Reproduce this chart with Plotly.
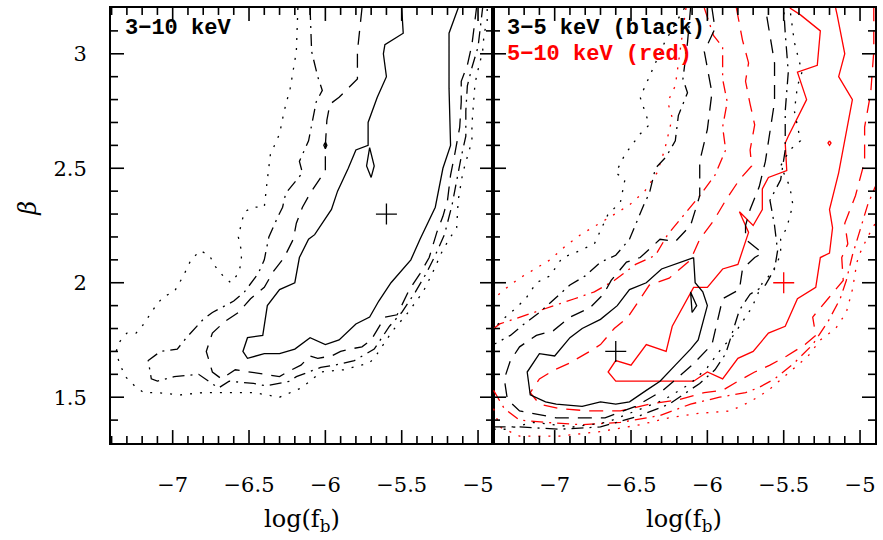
import plotly.graph_objects as go

# ---------------- axes / ticks ----------------
X_RANGE = [-7.404, -4.902]
Y_RANGE = [1.30, 3.20]
X_TICKS = [-7, -6.5, -6, -5.5, -5]
X_TICK_LABELS = ["\u22127", "\u22126.5", "\u22126", "\u22125.5", "\u22125"]
Y_TICKS = [1.5, 2, 2.5, 3]
Y_TICK_LABELS = ["1.5", "2", "2.5", "3"]
MINOR_STEP = 0.1

# ---------------- left panel : 3-10 keV ----------------
L_SOLID = [[(-5.50, 3.20), (-5.49, 3.09), (-5.61, 3.04), (-5.62, 3.00), (-5.60, 2.90), (-5.66, 2.81),
            (-5.72, 2.70), (-5.72, 2.60), (-5.80, 2.58), (-5.85, 2.50), (-5.92, 2.40), (-5.96, 2.32),
            (-6.07, 2.21), (-6.11, 2.19), (-6.17, 2.11), (-6.20, 2.00), (-6.30, 1.97), (-6.38, 1.90),
            (-6.41, 1.77), (-6.51, 1.76), (-6.54, 1.70), (-6.51, 1.67), (-6.40, 1.69), (-6.30, 1.69),
            (-6.20, 1.71), (-6.10, 1.76), (-6.00, 1.73), (-5.91, 1.75), (-5.80, 1.82), (-5.71, 1.85),
            (-5.65, 1.92), (-5.57, 2.00), (-5.44, 2.10), (-5.38, 2.19), (-5.28, 2.33), (-5.23, 2.50),
            (-5.18, 2.60), (-5.19, 2.85), (-5.19, 3.09), (-5.13, 3.20)],
           [(-5.71, 2.59), (-5.68, 2.51), (-5.70, 2.46), (-5.73, 2.51), (-5.71, 2.59)]]
L_DASH = [[(-5.76, 3.20), (-5.79, 3.01), (-5.79, 2.89), (-5.91, 2.81), (-5.97, 2.78), (-5.99, 2.71),
           (-6.00, 2.60), (-6.00, 2.49), (-6.10, 2.39), (-6.15, 2.33), (-6.19, 2.26), (-6.21, 2.19),
           (-6.27, 2.11), (-6.34, 2.05), (-6.40, 1.98), (-6.49, 1.93), (-6.57, 1.87), (-6.66, 1.83),
           (-6.74, 1.78), (-6.78, 1.70), (-6.74, 1.61), (-6.68, 1.58), (-6.59, 1.62), (-6.49, 1.61),
           (-6.38, 1.60), (-6.30, 1.59), (-6.25, 1.61), (-6.16, 1.64), (-6.10, 1.68), (-6.05, 1.67),
           (-5.96, 1.68), (-5.90, 1.70), (-5.84, 1.71), (-5.76, 1.72), (-5.70, 1.75), (-5.61, 1.85),
           (-5.53, 1.86), (-5.45, 1.97), (-5.38, 2.04), (-5.32, 2.11), (-5.27, 2.22), (-5.23, 2.29),
           (-5.20, 2.36), (-5.18, 2.47), (-5.15, 2.57), (-5.12, 2.68), (-5.11, 2.79), (-5.11, 2.88),
           (-5.07, 2.95), (-5.04, 3.04), (-5.01, 3.20)],
          [(-6.00, 2.615), (-5.99, 2.60), (-6.00, 2.585), (-6.01, 2.60), (-6.00, 2.615)]]
L_DASHDOT = [[(-6.10, 3.20), (-6.09, 3.01), (-6.05, 2.90), (-6.02, 2.84), (-6.06, 2.79), (-6.11, 2.62),
              (-6.17, 2.53), (-6.15, 2.48), (-6.26, 2.39), (-6.28, 2.33), (-6.31, 2.29), (-6.37, 2.20),
              (-6.40, 2.10), (-6.44, 2.04), (-6.53, 1.96), (-6.60, 1.92), (-6.74, 1.87), (-6.80, 1.84),
              (-6.91, 1.76), (-6.97, 1.71), (-7.08, 1.70), (-7.16, 1.66), (-7.14, 1.58), (-7.10, 1.57),
              (-6.99, 1.59), (-6.83, 1.60), (-6.70, 1.54), (-6.63, 1.57), (-6.47, 1.56), (-6.39, 1.55),
              (-6.23, 1.57), (-6.19, 1.59), (-6.03, 1.63), (-5.94, 1.64), (-5.81, 1.66), (-5.68, 1.71),
              (-5.58, 1.81), (-5.50, 1.87), (-5.41, 1.96), (-5.34, 2.04), (-5.28, 2.12), (-5.22, 2.21),
              (-5.17, 2.34), (-5.14, 2.45), (-5.11, 2.55), (-5.08, 2.64), (-5.08, 2.75), (-5.07, 2.86),
              (-5.04, 2.94), (-5.00, 3.03), (-4.98, 3.14), (-4.97, 3.20)]]
L_DOT = [[(-6.18, 3.20), (-6.19, 3.01), (-6.23, 2.85), (-6.27, 2.75), (-6.30, 2.65), (-6.36, 2.56),
          (-6.38, 2.45), (-6.39, 2.38), (-6.40, 2.33), (-6.47, 2.33), (-6.53, 2.31), (-6.55, 2.26),
          (-6.57, 2.20), (-6.55, 2.14), (-6.55, 2.09), (-6.57, 2.04), (-6.62, 2.00), (-6.67, 2.03),
          (-6.72, 2.07), (-6.76, 2.12), (-6.82, 2.14), (-6.88, 2.10), (-6.93, 2.03), (-6.99, 1.96),
          (-7.06, 1.94), (-7.11, 1.90), (-7.16, 1.85), (-7.20, 1.81), (-7.24, 1.78), (-7.30, 1.78),
          (-7.35, 1.74), (-7.37, 1.70), (-7.35, 1.65), (-7.31, 1.59), (-7.25, 1.55), (-7.19, 1.52),
          (-7.10, 1.52), (-6.95, 1.51), (-6.80, 1.52), (-6.63, 1.52), (-6.47, 1.52), (-6.30, 1.50),
          (-6.23, 1.52), (-6.16, 1.54), (-6.10, 1.57), (-6.03, 1.61), (-5.88, 1.62), (-5.71, 1.65),
          (-5.66, 1.69), (-5.56, 1.79), (-5.47, 1.86), (-5.36, 1.96), (-5.30, 2.04), (-5.24, 2.13),
          (-5.19, 2.19), (-5.14, 2.24), (-5.13, 2.36), (-5.10, 2.48), (-5.07, 2.55), (-5.04, 2.62),
          (-5.04, 2.69), (-5.02, 2.87), (-5.00, 2.93), (-4.97, 3.01), (-4.96, 3.09), (-4.94, 3.14),
          (-4.94, 3.20)]]
L_BEST = [(-5.6, 2.3)]

# ---------------- right panel : 3-5 keV (black) ----------------
B_SOLID = [[(-6.09, 2.11), (-6.18, 2.09), (-6.30, 2.06), (-6.40, 2.00), (-6.51, 1.97), (-6.59, 1.90),
            (-6.70, 1.84), (-6.82, 1.80), (-6.90, 1.76), (-7.00, 1.68), (-7.10, 1.69), (-7.18, 1.61),
            (-7.16, 1.51), (-7.06, 1.48), (-6.99, 1.47), (-6.82, 1.46), (-6.70, 1.48), (-6.60, 1.47),
            (-6.51, 1.48), (-6.40, 1.53), (-6.31, 1.57), (-6.21, 1.64), (-6.11, 1.71), (-6.06, 1.75),
            (-6.03, 1.83), (-6.00, 1.90), (-6.03, 1.96), (-6.08, 2.00), (-6.09, 2.11)],
           [(-6.11, 1.96), (-6.07, 1.90), (-6.10, 1.87), (-6.11, 1.96)]]
B_DASH = [[(-5.97, 3.20), (-5.95, 3.11), (-6.02, 3.01), (-5.97, 2.83), (-6.00, 2.67), (-6.05, 2.53),
           (-6.05, 2.38), (-6.11, 2.25), (-6.21, 2.18), (-6.31, 2.19), (-6.44, 2.11), (-6.53, 2.09),
           (-6.63, 2.01), (-6.68, 1.95), (-6.77, 1.89), (-6.90, 1.85), (-7.01, 1.79), (-7.12, 1.77),
           (-7.23, 1.72), (-7.29, 1.66), (-7.33, 1.58), (-7.31, 1.49), (-7.23, 1.44), (-6.99, 1.41),
           (-6.67, 1.41), (-6.47, 1.46), (-6.29, 1.53), (-6.10, 1.64), (-5.97, 1.73), (-5.93, 1.84),
           (-5.90, 1.93), (-5.79, 1.97), (-5.77, 2.06), (-5.69, 2.11), (-5.64, 2.13), (-5.75, 2.19),
           (-5.75, 2.25), (-5.72, 2.32), (-5.66, 2.42), (-5.62, 2.53), (-5.59, 2.66), (-5.56, 2.79),
           (-5.56, 2.96), (-5.59, 3.09), (-5.62, 3.20)]]
B_DASHDOT = [[(-6.11, 3.20), (-6.13, 3.05), (-6.16, 2.89), (-6.13, 2.83), (-6.19, 2.73), (-6.21, 2.62),
              (-6.27, 2.55), (-6.34, 2.50), (-6.38, 2.39), (-6.41, 2.35), (-6.51, 2.19), (-6.60, 2.12),
              (-6.70, 2.09), (-6.80, 2.03), (-6.90, 1.99), (-7.00, 1.93), (-7.10, 1.87), (-7.20, 1.82),
              (-7.29, 1.77), (-7.40, 1.73)],
             [(-7.40, 1.37), (-7.23, 1.37), (-6.97, 1.36), (-6.70, 1.37), (-6.44, 1.42), (-6.25, 1.47),
              (-6.05, 1.56), (-5.95, 1.62), (-5.88, 1.69), (-5.84, 1.77), (-5.79, 1.88), (-5.72, 1.95),
              (-5.62, 1.99), (-5.56, 2.06), (-5.54, 2.14), (-5.56, 2.25), (-5.59, 2.36), (-5.52, 2.45),
              (-5.49, 2.58), (-5.49, 2.75), (-5.47, 2.92), (-5.49, 3.09), (-5.50, 3.20)]]
B_DOT = [[(-6.15, 3.20), (-6.28, 3.05), (-6.38, 2.90), (-6.44, 2.81), (-6.41, 2.75), (-6.38, 2.69),
          (-6.44, 2.65), (-6.54, 2.56), (-6.60, 2.48), (-6.54, 2.45), (-6.57, 2.35), (-6.65, 2.30),
          (-6.74, 2.17), (-6.87, 2.13), (-6.95, 2.11), (-7.03, 2.03), (-7.12, 2.00), (-7.19, 1.93),
          (-7.27, 1.88), (-7.34, 1.84), (-7.40, 1.80)],
         [(-7.40, 1.36), (-7.32, 1.36), (-7.14, 1.39), (-6.88, 1.37), (-6.66, 1.39), (-6.47, 1.44),
          (-6.28, 1.49), (-6.11, 1.56), (-6.00, 1.63), (-5.90, 1.72), (-5.84, 1.76), (-5.80, 1.80),
          (-5.75, 1.85), (-5.71, 1.89), (-5.67, 1.95), (-5.64, 2.00), (-5.58, 2.04), (-5.54, 2.09),
          (-5.52, 2.13), (-5.52, 2.19), (-5.48, 2.24), (-5.44, 2.34), (-5.46, 2.42), (-5.52, 2.51),
          (-5.46, 2.58), (-5.39, 2.62), (-5.43, 2.75), (-5.41, 2.86), (-5.38, 2.92), (-5.43, 3.05),
          (-5.46, 3.20)]]
B_BEST = [(-6.6, 1.7)]

# ---------------- right panel : 5-10 keV (red) ----------------
R_SOLID = [[(-5.46, 3.20), (-5.39, 3.17), (-5.26, 3.10), (-5.28, 2.95), (-5.41, 2.92), (-5.35, 2.80),
            (-5.47, 2.64), (-5.49, 2.61), (-5.48, 2.49), (-5.60, 2.46), (-5.64, 2.41), (-5.64, 2.32),
            (-5.70, 2.25), (-5.79, 2.31), (-5.73, 2.22), (-5.80, 2.08), (-5.90, 2.06), (-6.00, 1.98),
            (-6.09, 1.98), (-6.23, 1.81), (-6.27, 1.70), (-6.40, 1.73), (-6.50, 1.64), (-6.60, 1.66),
            (-6.65, 1.61), (-6.60, 1.57), (-6.42, 1.57), (-6.21, 1.57), (-6.09, 1.57), (-6.00, 1.61),
            (-5.90, 1.58), (-5.80, 1.67), (-5.70, 1.70), (-5.60, 1.78), (-5.49, 1.81), (-5.41, 1.93),
            (-5.29, 1.98), (-5.26, 2.11), (-5.20, 2.13), (-5.18, 2.24), (-5.20, 2.32), (-5.14, 2.48),
            (-5.05, 2.80), (-5.14, 2.90), (-5.10, 3.00), (-5.15, 3.17), (-5.16, 3.20)],
           [(-5.20, 2.62), (-5.19, 2.61), (-5.20, 2.60), (-5.21, 2.61), (-5.20, 2.62)]]
R_DASH = [[(-5.81, 3.20), (-5.77, 3.06), (-5.73, 2.96), (-5.75, 2.88), (-5.72, 2.78), (-5.69, 2.69),
           (-5.72, 2.58), (-5.71, 2.51), (-5.79, 2.45), (-5.88, 2.36), (-5.96, 2.27), (-6.05, 2.19),
           (-6.11, 2.10), (-6.25, 2.02), (-6.38, 1.99), (-6.44, 1.93), (-6.52, 1.85), (-6.61, 1.80),
           (-6.70, 1.73), (-6.77, 1.70), (-6.90, 1.65), (-7.00, 1.62), (-7.10, 1.58), (-7.16, 1.52),
           (-7.10, 1.47), (-6.97, 1.45), (-6.77, 1.44), (-6.57, 1.44), (-6.38, 1.47), (-6.18, 1.49),
           (-6.02, 1.52), (-5.90, 1.53), (-5.80, 1.57), (-5.69, 1.61), (-5.59, 1.64), (-5.48, 1.68),
           (-5.36, 1.73), (-5.29, 1.77), (-5.31, 1.85), (-5.21, 1.93), (-5.11, 2.01), (-5.12, 2.11),
           (-5.08, 2.17), (-5.10, 2.26), (-5.03, 2.38), (-4.97, 2.53), (-4.97, 2.68), (-4.93, 2.83),
           (-4.91, 3.01), (-4.91, 3.20)]]
R_DASHDOT = [[(-6.02, 3.20), (-5.96, 3.08), (-5.90, 3.03), (-5.90, 2.89), (-5.87, 2.79), (-5.90, 2.68),
              (-5.88, 2.58), (-5.95, 2.47), (-6.05, 2.38), (-6.16, 2.29), (-6.26, 2.21), (-6.34, 2.12),
              (-6.47, 2.08), (-6.61, 2.01), (-6.74, 1.96), (-6.87, 1.93), (-7.00, 1.90), (-7.13, 1.87),
              (-7.26, 1.84), (-7.36, 1.82), (-7.40, 1.80)],
             [(-7.40, 1.53), (-7.33, 1.45), (-7.23, 1.40), (-7.06, 1.39), (-6.83, 1.38), (-6.57, 1.39),
              (-6.31, 1.42), (-6.11, 1.47), (-5.92, 1.50), (-5.75, 1.52), (-5.67, 1.54), (-5.56, 1.58),
              (-5.43, 1.65), (-5.31, 1.73), (-5.21, 1.83), (-5.13, 1.93), (-5.09, 2.01), (-5.05, 2.12),
              (-5.00, 2.23), (-4.95, 2.34), (-4.90, 2.42)]]
R_DOT = [[(-6.14, 3.20), (-6.17, 3.05), (-6.21, 2.86), (-6.26, 2.79), (-6.23, 2.72), (-6.28, 2.58),
          (-6.33, 2.48), (-6.41, 2.40), (-6.51, 2.34), (-6.63, 2.29), (-6.73, 2.25), (-6.83, 2.21),
          (-6.93, 2.16), (-7.03, 2.10), (-7.13, 2.06), (-7.23, 2.02), (-7.33, 1.97), (-7.40, 1.93)],
         [(-7.40, 1.45), (-7.36, 1.37), (-7.23, 1.33), (-6.97, 1.33), (-6.70, 1.35), (-6.44, 1.38),
          (-6.25, 1.41), (-6.05, 1.43), (-5.85, 1.44), (-5.72, 1.48), (-5.60, 1.53), (-5.46, 1.61),
          (-5.34, 1.68), (-5.26, 1.75), (-5.16, 1.80), (-5.09, 1.87), (-5.05, 1.97), (-5.02, 2.09),
          (-5.00, 2.13), (-4.95, 2.20), (-4.90, 2.26)]]
R_BEST = [(-5.5, 2.0)]

LABEL_LEFT = "3\u221210 keV"
LABEL_BLACK = "3\u22125 keV (black)"
LABEL_RED = "5\u221210 keV (red)"
X_TITLE = "log(f<sub>b</sub>)"
Y_TITLE = "\u03b2"

BLACK = "#000000"
RED = "#ff0000"
DASH_STYLES = {"solid": "solid", "dash": "14px,9px", "dashdot": "12px,6px,2px,6px", "dot": "2px,8px"}

# figure geometry (pixels)
FIG_W, FIG_H = 883, 540
MARGIN = dict(l=111, r=8, t=6, b=97)
PANEL_W = (FIG_W - MARGIN["l"] - MARGIN["r"]) / 2.0
PANEL_H = FIG_H - MARGIN["t"] - MARGIN["b"]
MAJOR_LEN, MINOR_LEN = 13, 7

fig = go.Figure()


def add_contour(pieces, color, style, xa, ya):
    xs, ys = [], []
    for piece in pieces:
        for px, py in piece:
            xs.append(px)
            ys.append(py)
        xs.append(None)
        ys.append(None)
    fig.add_trace(go.Scatter(x=xs, y=ys, mode="lines", xaxis=xa, yaxis=ya, connectgaps=False,
                             line=dict(color=color, width=1.3, dash=DASH_STYLES[style]),
                             hoverinfo="skip", showlegend=False))


def add_best(pts, color, xa, ya):
    fig.add_trace(go.Scatter(x=[p[0] for p in pts], y=[p[1] for p in pts], mode="markers",
                             xaxis=xa, yaxis=ya, showlegend=False, hoverinfo="skip",
                             marker=dict(symbol="cross-thin", size=15, color=color,
                                         line=dict(color=color, width=1.3))))


def minor_values(lo, hi, majors):
    vals = []
    k = int(lo / MINOR_STEP) - 1
    while k * MINOR_STEP <= hi + 1e-9:
        v = round(k * MINOR_STEP, 6)
        if lo + 1e-6 < v < hi - 1e-6 and all(abs(v - m) > 1e-6 for m in majors):
            vals.append(v)
        k += 1
    return vals


def add_ticks(xa, ya):
    # inward tick marks on all four sides of a panel, drawn with the panel's own scales
    dx = (X_RANGE[1] - X_RANGE[0]) / PANEL_W   # data units per pixel
    dy = (Y_RANGE[1] - Y_RANGE[0]) / PANEL_H
    xs, ys = [], []
    for vals, ln in ((X_TICKS, MAJOR_LEN), (minor_values(X_RANGE[0], X_RANGE[1], X_TICKS), MINOR_LEN)):
        for v in vals:
            xs += [v, v, None, v, v, None]
            ys += [Y_RANGE[0], Y_RANGE[0] + ln * dy, None, Y_RANGE[1], Y_RANGE[1] - ln * dy, None]
    for vals, ln in ((Y_TICKS, MAJOR_LEN), (minor_values(Y_RANGE[0], Y_RANGE[1], Y_TICKS), MINOR_LEN)):
        for v in vals:
            xs += [X_RANGE[0], X_RANGE[0] + ln * dx, None, X_RANGE[1], X_RANGE[1] - ln * dx, None]
            ys += [v, v, None, v, v, None]
    fig.add_trace(go.Scatter(x=xs, y=ys, mode="lines", xaxis=xa, yaxis=ya, connectgaps=False,
                             line=dict(color="black", width=1.6), hoverinfo="skip", showlegend=False))


add_contour(L_DOT, BLACK, "dot", "x", "y")
add_contour(L_DASHDOT, BLACK, "dashdot", "x", "y")
add_contour(L_DASH, BLACK, "dash", "x", "y")
add_contour(L_SOLID, BLACK, "solid", "x", "y")
add_best(L_BEST, BLACK, "x", "y")

add_contour(R_DOT, RED, "dot", "x2", "y2")
add_contour(R_DASHDOT, RED, "dashdot", "x2", "y2")
add_contour(R_DASH, RED, "dash", "x2", "y2")
add_contour(R_SOLID, RED, "solid", "x2", "y2")
add_contour(B_DOT, BLACK, "dot", "x2", "y2")
add_contour(B_DASHDOT, BLACK, "dashdot", "x2", "y2")
add_contour(B_DASH, BLACK, "dash", "x2", "y2")
add_contour(B_SOLID, BLACK, "solid", "x2", "y2")
add_best(B_BEST, BLACK, "x2", "y2")
add_best(R_BEST, RED, "x2", "y2")

add_ticks("x", "y")
add_ticks("x2", "y2")

TICK_FONT = dict(family="DejaVu Serif", size=21, color="black")

xframe = dict(showline=True, linewidth=2, linecolor="black", mirror=True, ticks="",
              showgrid=False, zeroline=False, range=X_RANGE, tickmode="array",
              tickvals=X_TICKS, ticktext=X_TICK_LABELS, tickfont=TICK_FONT,
              ticklabelstandoff=22)
yframe = dict(showline=True, linewidth=2, linecolor="black", mirror=True, ticks="",
              showgrid=False, zeroline=False, range=Y_RANGE, tickmode="array",
              tickvals=Y_TICKS, ticktext=Y_TICK_LABELS, tickfont=TICK_FONT,
              ticklabelstandoff=18)

fig.update_layout(
    width=FIG_W, height=FIG_H,
    margin=MARGIN,
    paper_bgcolor="white", plot_bgcolor="white",
    xaxis=dict(xframe, domain=[0, 0.5], anchor="y"),
    xaxis2=dict(xframe, domain=[0.5, 1], anchor="y2"),
    yaxis=dict(yframe, domain=[0, 1], anchor="x"),
    yaxis2=dict(yframe, domain=[0, 1], anchor="x2", showticklabels=False),
)

LABEL_FONT = dict(family="Liberation Mono", size=22, color="black")
fig.add_annotation(x=X_RANGE[0] + 0.08, y=3.11, xref="x", yref="y", text="<b>" + LABEL_LEFT + "</b>",
                   showarrow=False, xanchor="left", yanchor="middle", font=LABEL_FONT)
fig.add_annotation(x=X_RANGE[0] + 0.08, y=3.11, xref="x2", yref="y2", text="<b>" + LABEL_BLACK + "</b>",
                   showarrow=False, xanchor="left", yanchor="middle", font=LABEL_FONT)
fig.add_annotation(x=X_RANGE[0] + 0.08, y=2.995, xref="x2", yref="y2", text="<b>" + LABEL_RED + "</b>",
                   showarrow=False, xanchor="left", yanchor="middle", font=dict(LABEL_FONT, color=RED))

TITLE_FONT = dict(family="DejaVu Serif", size=24, color="black")
for cx in (0.25, 0.75):
    fig.add_annotation(x=cx, y=-0.178, xref="paper", yref="paper", text=X_TITLE, showarrow=False,
                       xanchor="center", yanchor="middle", font=TITLE_FONT)
fig.add_annotation(x=-0.109, y=0.54, xref="paper", yref="paper", text="<i>" + Y_TITLE + "</i>",
                   showarrow=False, textangle=-90, xanchor="center", yanchor="middle",
                   font=dict(family="DejaVu Serif", size=24, color="black"))

fig.write_html("out.html")
